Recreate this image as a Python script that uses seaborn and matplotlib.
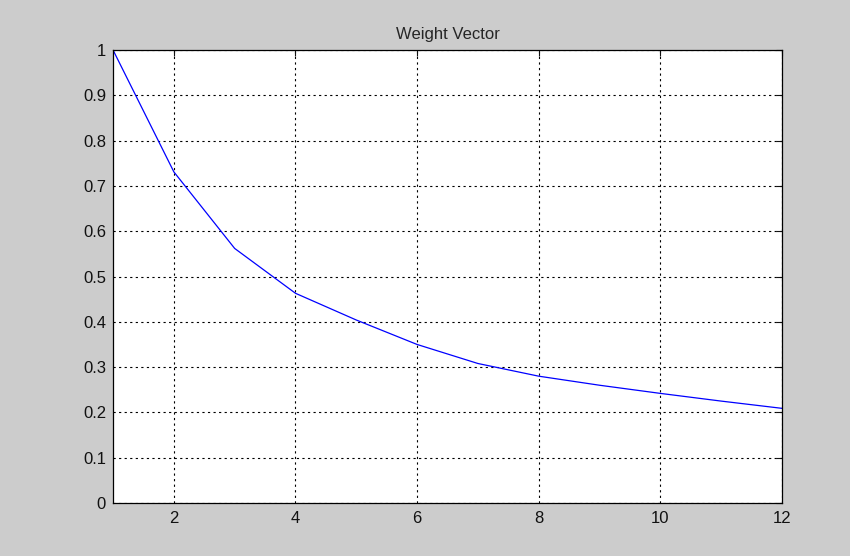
import matplotlib
matplotlib.use("Agg")
import matplotlib.pyplot as plt
import pandas as pd
import seaborn as sns

# weight values
steps = [1, 2, 3, 4, 5, 6, 7, 8, 9, 10, 11, 12]
weights = [1.0, 0.731, 0.562, 0.463, 0.404, 0.350, 0.308, 0.280, 0.260, 0.242, 0.225, 0.209]
x_ticks = [2, 4, 6, 8, 10, 12]
y_ticks = [0, 0.1, 0.2, 0.3, 0.4, 0.5, 0.6, 0.7, 0.8, 0.9, 1]

df = pd.DataFrame({"step": steps, "weight": weights})

sns.set_style("white")
plt.rcParams["font.family"] = ["Liberation Sans", "DejaVu Sans"]

fig = plt.figure(figsize=(8.5, 5.56), dpi=100, facecolor="#cccccc")
ax = fig.add_axes([0.133, 0.0953, 0.787, 0.8147])
ax.set_facecolor("white")

sns.lineplot(data=df, x="step", y="weight", color="#0000ff", linewidth=0.9, ax=ax)

ax.set_xlim(1, 12)
ax.set_ylim(0, 1)
ax.set_xticks(x_ticks)
ax.set_yticks(y_ticks)
ax.set_yticklabels([f"{v:g}" for v in y_ticks])
ax.grid(True, color="black", linestyle=(0, (2, 3)), linewidth=0.8)
ax.tick_params(direction="in", top=True, right=True, length=4, labelsize=12,
               colors="#111111")
ax.tick_params(axis="x", pad=6)
ax.tick_params(axis="y", pad=5)
for s in ax.spines.values():
    s.set_color("black")
    s.set_linewidth(0.9)
ax.set_xlabel("")
ax.set_ylabel("")
ax.set_title("Weight Vector", fontsize=12, pad=8)

fig.savefig("out.png", dpi=100, facecolor=fig.get_facecolor())
